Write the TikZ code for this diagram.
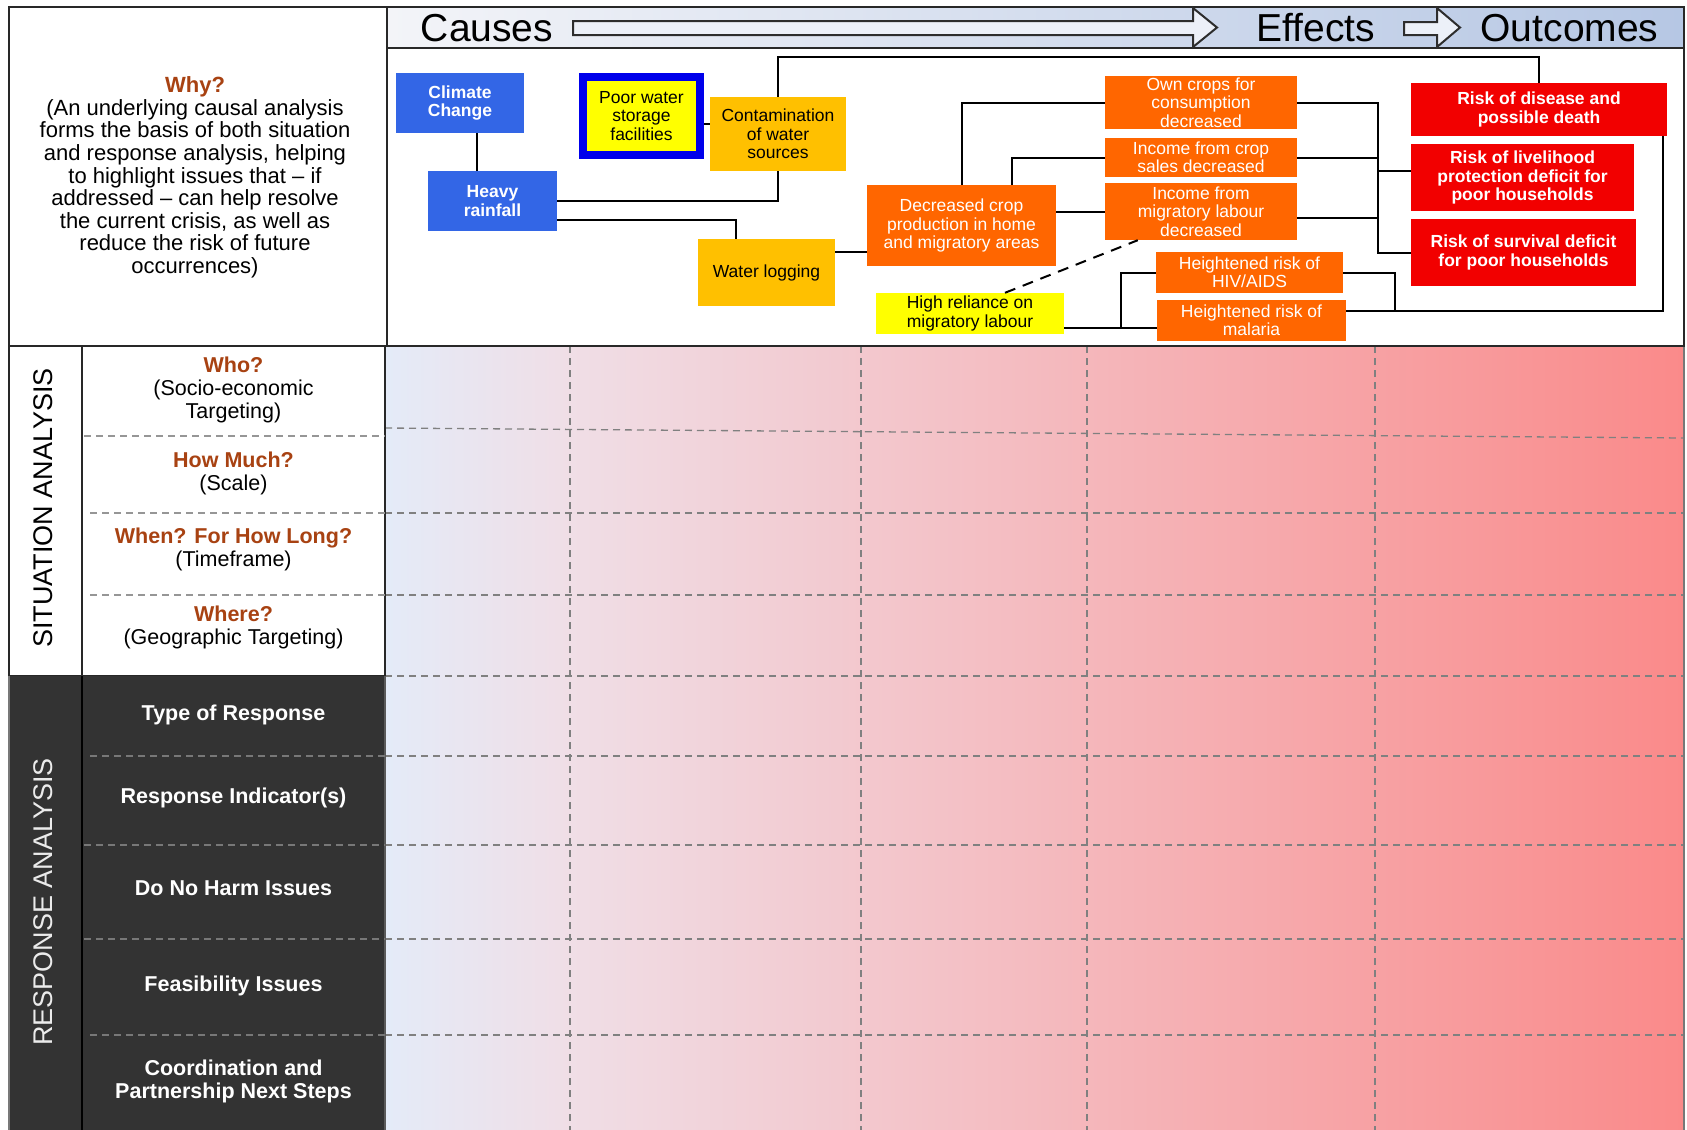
\documentclass[tikz,border=0pt]{standalone}
\usepackage{fontspec}
\setmainfont{Liberation Sans}
\usetikzlibrary{calc}

\definecolor{causeblue}{RGB}{51,102,230}
\definecolor{poorblue}{RGB}{0,0,235}
\definecolor{amber}{RGB}{255,192,0}
\definecolor{effectorange}{RGB}{255,102,0}
\definecolor{lemon}{RGB}{255,255,0}
\definecolor{outcomered}{RGB}{242,0,0}
\definecolor{qbrown}{RGB}{168,66,18}
\definecolor{darkpanel}{RGB}{51,51,51}
\definecolor{hdrleft}{RGB}{243,244,248}
\definecolor{hdrright}{RGB}{182,199,228}
\definecolor{gridleft}{RGB}{228,235,248}
\definecolor{gridmid}{RGB}{240,222,230}
\definecolor{gridright}{RGB}{250,138,138}

\tikzset{
  cbox/.style={rectangle, inner sep=0pt, align=center, font=\fontsize{17.5}{18.3}\selectfont},
  bluebox/.style={cbox, fill=causeblue, text=white, font=\fontsize{17.5}{18.3}\selectfont\bfseries},
  amberbox/.style={cbox, fill=amber},
  lemonbox/.style={cbox, fill=lemon},
  orangebox/.style={cbox, fill=effectorange, text=white},
  redbox/.style={cbox, fill=outcomered, text=white, font=\fontsize{17.5}{18.3}\selectfont\bfseries},
  link/.style={draw=black, line width=2pt},
  frame/.style={draw={rgb,255:red,40;green,40;blue,40}, line width=2pt},
  gridline/.style={draw={rgb,255:red,128;green,128;blue,128}, line width=1.3pt, dash pattern=on 7pt off 5pt},
  hdrtext/.style={inner sep=0pt, font=\fontsize{39}{40}\selectfont},
  hdrarrow/.style={draw={rgb,255:red,45;green,45;blue,45}, line width=2pt, fill={rgb,255:red,236;green,240;blue,248}},
  rowtext/.style={align=center, inner sep=0pt, font=\fontsize{21.5}{23}\selectfont},
  sidelabel/.style={inner sep=0pt, font=\fontsize{27}{28}\selectfont}
}

\begin{document}
\begin{tikzpicture}[x=1pt,y=1pt,yscale=-1,xscale=1]
\useasboundingbox (0,0) rectangle (1687,1130);

%Shape: Rectangle [grid shading]
\fill [left color=gridleft, right color=gridmid] (385,346) rectangle (570,1130);
\fill [left color=gridmid, right color=gridright] (570,346) rectangle (1684,1130);

%Straight Lines [grid rows]
\draw [gridline] (385,428) -- (1684,438);
\draw [gridline] (385,513) -- (1684,513);
\draw [gridline] (385,595) -- (1684,595);
\draw [gridline] (385,676) -- (1684,676);
\draw [gridline] (385,756) -- (1684,756);
\draw [gridline] (385,845) -- (1684,845);
\draw [gridline] (385,939) -- (1684,939);
\draw [gridline] (385,1035) -- (1684,1035);
%Straight Lines [grid columns]
\draw [gridline] (570,346) -- (570,1130);
\draw [gridline] (861,346) -- (861,1130);
\draw [gridline] (1087,346) -- (1087,1130);
\draw [gridline] (1375,346) -- (1375,1130);
\draw [draw={rgb,255:red,120;green,120;blue,120}, line width=1.5pt] (1684,346) -- (1684,1130);

%Shape: Rectangle [situation part]
\draw [frame, fill=white] (9,346) rectangle (82,676);
\draw [frame, fill=white] (82,346) rectangle (385,676);
%Shape: Rectangle [response part]
\fill [darkpanel] (9,676) rectangle (385,1130);
\draw [draw=black, line width=1.5pt] (82,676) -- (82,1130);
\draw [draw={rgb,255:red,120;green,120;blue,120}, line width=1.5pt] (9,676) -- (9,1130);
\draw [draw={rgb,255:red,90;green,90;blue,90}, line width=1.5pt] (385,676) -- (385,1130);

%Straight Lines [row separators]
\draw [gridline, draw={rgb,255:red,150;green,150;blue,150}] (84,436) -- (385,436);
\draw [gridline, draw={rgb,255:red,150;green,150;blue,150}] (90,513) -- (385,513);
\draw [gridline, draw={rgb,255:red,150;green,150;blue,150}] (90,595) -- (385,595);
\draw [gridline, draw={rgb,255:red,120;green,120;blue,120}] (90,756) -- (385,756);
\draw [gridline, draw={rgb,255:red,120;green,120;blue,120}] (84,845) -- (385,845);
\draw [gridline, draw={rgb,255:red,120;green,120;blue,120}] (84,939) -- (385,939);
\draw [gridline, draw={rgb,255:red,120;green,120;blue,120}] (90,1035) -- (385,1035);

% Text Node
\node [sidelabel, rotate=90] (sitlabel) at (43,508) {SITUATION ANALYSIS};
% Text Node
\node [sidelabel, rotate=90, text={rgb,255:red,235;green,235;blue,235}] (reslabel) at (43,902) {RESPONSE ANALYSIS};

% Text Node
\node [rowtext] (who) at (233.5,390) {\textcolor{qbrown}{\bfseries Who?}\\(Socio-economic\\Targeting)};
% Text Node
\node [rowtext] (howmuch) at (233.5,473.5) {\textcolor{qbrown}{\bfseries How Much?}\\(Scale)};
% Text Node
\node [rowtext] (when) at (233.5,549.5) {\textcolor{qbrown}{\bfseries When? For How Long?}\\(Timeframe)};
% Text Node
\node [rowtext] (where) at (233.5,627) {\textcolor{qbrown}{\bfseries Where?}\\(Geographic Targeting)};

% Text Node
\node [rowtext, text=white, font=\fontsize{21.5}{23}\selectfont\bfseries] (restype) at (233.5,715) {Type of Response};
% Text Node
\node [rowtext, text=white, font=\fontsize{21.5}{23}\selectfont\bfseries] (resind) at (233.5,798) {Response Indicator(s)};
% Text Node
\node [rowtext, text=white, font=\fontsize{21.5}{23}\selectfont\bfseries] (noharm) at (233.5,888) {Do No Harm Issues};
% Text Node
\node [rowtext, text=white, font=\fontsize{21.5}{23}\selectfont\bfseries] (feasible) at (233.5,986) {Feasibility Issues};
% Text Node
\node [rowtext, text=white, font=\fontsize{21.5}{23}\selectfont\bfseries] (coord) at (233.5,1081.5) {Coordination and\\Partnership Next Steps};

%Shape: Rectangle [why panel]
\draw [frame, fill=white] (9,7) rectangle (387,346);
% Text Node
\node [rowtext, font=\fontsize{22}{22.6}\selectfont] (why) at (195,177.5) {\textcolor{qbrown}{\bfseries Why?}\\(An underlying causal analysis\\forms the basis of both situation\\and response analysis, helping\\to highlight issues that -- if\\addressed -- can help resolve\\the current crisis, as well as\\reduce the risk of future\\occurrences)};

%Shape: Rectangle [header band]
\draw [frame, left color=hdrleft, right color=hdrright] (387,7) rectangle (1684,48);
%Shape: Rectangle [causal diagram]
\draw [frame, fill=white] (387,48) rectangle (1684,346);

%Shape: Right Arrow
\draw [hdrarrow] (573,21) -- (1193,21) -- (1193,8) -- (1217,27.5) -- (1193,47) -- (1193,35) -- (573,35) -- cycle;
%Shape: Right Arrow
\draw [hdrarrow] (1404,22) -- (1437,22) -- (1437,8) -- (1460,27.5) -- (1437,47) -- (1437,35) -- (1404,35) -- cycle;
% Text Node
\node [hdrtext] (causes) at (487,28) {Causes};
% Text Node
\node [hdrtext] (effects) at (1316,28) {Effects};
% Text Node
\node [hdrtext] (outcomes) at (1569.5,28) {Outcomes};

% Causes
\node [bluebox, minimum width=128pt, minimum height=60pt] (climate) at (460,103) {Climate\\Change};
\node [bluebox, minimum width=129pt, minimum height=60pt] (heavy) at (492.5,201) {Heavy\\rainfall};
\node [lemonbox, draw=poorblue, line width=8pt, minimum width=117pt, minimum height=78pt] (poor) at (641.5,116) {Poor water\\storage\\facilities};
\node [amberbox, minimum width=136pt, minimum height=74pt] (contam) at (778,134) {Contamination\\of water\\sources};
\node [amberbox, minimum width=137pt, minimum height=67pt] (waterlog) at (766.5,272.5) {Water logging};

% Effects
\node [orangebox, minimum width=189pt, minimum height=81pt] (decreased) at (961.5,225.5) {Decreased crop\\production in home\\and migratory areas};
\node [lemonbox, minimum width=188pt, minimum height=41pt] (reliance) at (970,313.5) {High reliance on\\migratory labour};
\node [orangebox, minimum width=192pt, minimum height=53pt] (owncrop) at (1201,102.5) {Own crops for\\consumption\\decreased};
\node [orangebox, minimum width=192pt, minimum height=39pt] (cropsales) at (1201,157.5) {Income from crop\\sales decreased};
\node [orangebox, minimum width=192pt, minimum height=57pt] (migincome) at (1201,211.5) {Income from\\migratory labour\\decreased};
\node [orangebox, minimum width=187pt, minimum height=41pt] (hiv) at (1249.5,272.5) {Heightened risk of\\HIV/AIDS};
\node [orangebox, minimum width=189pt, minimum height=41pt] (malaria) at (1251.5,320.5) {Heightened risk of\\malaria};

% Outcomes
\node [redbox, minimum width=256pt, minimum height=53pt] (disease) at (1539,109.5) {Risk of disease and\\possible death};
\node [redbox, minimum width=223pt, minimum height=67pt] (livelihood) at (1522.5,177.5) {Risk of livelihood\\protection deficit for\\poor households};
\node [redbox, minimum width=225pt, minimum height=67pt] (survival) at (1523.5,252.5) {Risk of survival deficit\\for poor households};

%Straight Lines
\draw [link] ($(climate.south)+(17,0)$) -- ($(heavy.north)+(-15.5,0)$);
\draw [link] ($(poor.east)+(0,8)$) -- ($(contam.west)+(0,-10)$);
\draw [link] (heavy.east) -| (contam.south);
\draw [link] ($(heavy.east)+(0,19)$) -| ($(waterlog.north)+(-30.5,0)$);
\draw [link] (contam.north) -- ++(0,-40) -| (disease.north);
\draw [link] ($(waterlog.east)+(0,-20.5)$) -- ($(decreased.west)+(0,26.5)$);
\draw [link] (decreased.north) |- (owncrop.west);
\draw [link] ($(decreased.north)+(50,0)$) |- (cropsales.west);
\draw [link] (decreased.east |- migincome.west) -- (migincome.west);
\draw [link, dash pattern=on 11pt off 8pt] ($(reliance.north)+(35,0)$) -- ($(migincome.south west)+(33,0)$);
\draw [link] ($(reliance.east)+(0,14.5)$) -- ($(malaria.west)+(0,7.5)$);
\draw [link] ($(reliance.east)+(57,14.5)$) |- (hiv.west);
\draw [link] (owncrop.east) -| ($(survival.west)+(-33,0)$) -- (survival.west);
\draw [link] (cropsales.east) -| ($(livelihood.west)+(-33,-6.5)$) -- ($(livelihood.west)+(0,-6.5)$);
\draw [link] ($(migincome.east)+(0,6.5)$) -| ($(survival.west)+(-33,0)$);
\draw [link] (hiv.east) -| ($(malaria.east)+(49,-9.5)$);
\draw [link] ($(malaria.east)+(0,-9.5)$) -| ($(disease.south east)+(-4,0)$);

\end{tikzpicture}
\end{document}
